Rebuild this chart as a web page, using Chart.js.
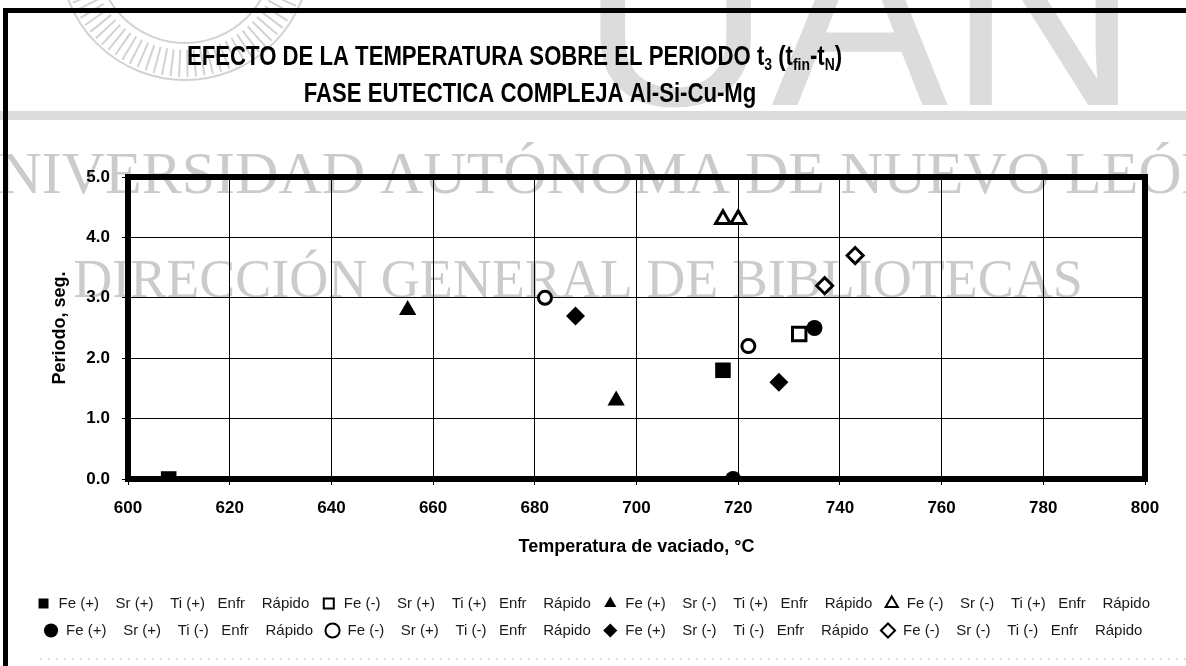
<!DOCTYPE html>
<html><head><meta charset="utf-8">
<script src="https://cdn.jsdelivr.net/npm/chart.js@4.4.0/dist/chart.umd.min.js"></script>
<style>html,body{margin:0;padding:0;background:#fff;}#wrap{width:1186px;height:666px;}</style>
</head><body><div id="wrap"><canvas id="c" width="1186" height="666"></canvas></div>
<script>
// ---- data ----
const seriesNames = [
  'Fe (+)    Sr (+)    Ti (+)   Enfr    Rápido',
  'Fe (-)    Sr (+)    Ti (+)   Enfr    Rápido',
  'Fe (+)    Sr (-)    Ti (+)   Enfr    Rápido',
  'Fe (-)    Sr (-)    Ti (+)   Enfr    Rápido',
  'Fe (+)    Sr (+)    Ti (-)   Enfr    Rápido',
  'Fe (-)    Sr (+)    Ti (-)   Enfr    Rápido',
  'Fe (+)    Sr (-)    Ti (-)   Enfr    Rápido',
  'Fe (-)    Sr (-)    Ti (-)   Enfr    Rápido'
];
const temp1 = [608, 717];  const period1 = [0.0, 1.8];
const temp2 = [732];       const period2 = [2.4];
const temp3 = [655, 696];  const period3 = [2.8, 1.3];
const temp4 = [717, 720];  const period4 = [4.3, 4.3];
const temp5 = [735, 719];  const period5 = [2.5, 0.0];
const temp6 = [682, 722];  const period6 = [3.0, 2.2];
const temp7 = [688, 728];  const period7 = [2.7, 1.6];
const temp8 = [743, 737];  const period8 = [3.7, 3.2];
const xTicks = [600, 620, 640, 660, 680, 700, 720, 740, 760, 780, 800];
const yTicks = [0, 1, 2, 3, 4, 5];
const titleLine2 = 'FASE EUTECTICA COMPLEJA Al-Si-Cu-Mg';
const xTitle = 'Temperatura de vaciado, °C';
const yTitle = 'Periodo, seg.';

const temps = [temp1, temp2, temp3, temp4, temp5, temp6, temp7, temp8];
const periods = [period1, period2, period3, period4, period5, period6, period7, period8];
const styles = ['rect','rect','triangle','triangle','circle','circle','rectRot','rectRot'];
const filled = [true,false,true,false,true,false,true,false];
const radii = {rect: 11, triangle: 10, circle: 8, rectRot: 9.5};

const datasets = seriesNames.map((name, i) => ({
  label: name,
  data: temps[i].map((t, j) => ({x: t, y: periods[i][j]})),
  pointStyle: styles[i],
  pointRadius: radii[styles[i]] - (filled[i] ? 0 : 1.5),
  pointHoverRadius: radii[styles[i]],
  backgroundColor: filled[i] ? '#000' : '#fff',
  borderColor: '#000',
  borderWidth: filled[i] ? 0 : 3,
  showLine: false
}));

const FONT = "'Liberation Sans', Arial, sans-serif";

const decor = {
  id: 'decor',
  beforeDraw(chart) {
    const ctx = chart.ctx;
    ctx.save();
    ctx.fillStyle = '#fff';
    ctx.fillRect(0, 0, chart.width, chart.height);
    // faint watermark of the scanned page
    ctx.strokeStyle = '#d2d2d2';
    ctx.lineWidth = 2;
    ctx.beginPath(); ctx.arc(185, -45, 125, 0, Math.PI); ctx.stroke();
    ctx.beginPath(); ctx.arc(185, -45, 88, 0, Math.PI); ctx.stroke();
    for (let a = 0.15; a < Math.PI - 0.1; a += 0.07) {
      ctx.beginPath();
      ctx.moveTo(185 + 95 * Math.cos(a), -45 + 95 * Math.sin(a));
      ctx.lineTo(185 + 122 * Math.cos(a), -45 + 122 * Math.sin(a));
      ctx.stroke();
    }
    ctx.font = "265px 'Liberation Sans', sans-serif";
    ctx.textBaseline = 'alphabetic';
    ctx.textAlign = 'left';
    ctx.fillStyle = '#dcdcdc';
    ctx.fillText('UAN', 580, 105);
    ctx.fillRect(0, 111, chart.width, 9);
    ctx.fillStyle = '#cbcbcb';
    ctx.font = "60px 'Liberation Serif', serif";
    ctx.textAlign = 'center';
    ctx.fillText('UNIVERSIDAD AUTÓNOMA DE NUEVO LEÓN', 590, 193);
    ctx.font = "54px 'Liberation Serif', serif";
    ctx.fillText('DIRECCIÓN GENERAL DE BIBLIOTECAS', 578, 297);
    // outer frame of the figure
    ctx.fillStyle = '#000';
    ctx.fillRect(3, 8, 5, chart.height - 8);
    ctx.fillRect(3, 8, chart.width, 5);
    // dotted bottom edge
    ctx.strokeStyle = '#bbb';
    ctx.lineWidth = 1;
    ctx.setLineDash([2, 6]);
    ctx.beginPath(); ctx.moveTo(40, 659); ctx.lineTo(1186, 659); ctx.stroke();
    ctx.setLineDash([]);
    // title with subscripts (condensed bold)
    const big = "bold 27px 'Liberation Sans', Arial, sans-serif";
    const small = "bold 17px 'Liberation Sans', Arial, sans-serif";
    const sx = 0.82;
    const parts = [
      ['EFECTO DE LA TEMPERATURA SOBRE EL PERIODO t', big, 0],
      ['3', small, 5],
      [' (t', big, 0],
      ['fin', small, 5],
      ['-t', big, 0],
      ['N', small, 5],
      [')', big, 0]
    ];
    ctx.fillStyle = '#000';
    ctx.textAlign = 'left';
    ctx.save();
    ctx.translate(187, 0);
    ctx.scale(sx, 1);
    let x = 0;
    parts.forEach(p => { ctx.font = p[1]; ctx.fillText(p[0], x, 65 + p[2]); x += ctx.measureText(p[0]).width; });
    ctx.restore();
    ctx.save();
    ctx.translate(530, 0);
    ctx.scale(sx, 1);
    ctx.font = big;
    ctx.textAlign = 'center';
    ctx.fillText(titleLine2, 0, 102);
    ctx.restore();
    ctx.restore();
  },
  beforeDatasetsDraw(chart) {
    const {ctx, chartArea: a} = chart;
    ctx.save();
    ctx.strokeStyle = '#000';
    ctx.lineWidth = 6;
    ctx.strokeRect(a.left, a.top, a.right - a.left, a.bottom - a.top);
    ctx.restore();
  }
};

new Chart(document.getElementById('c'), {
  type: 'scatter',
  data: { datasets },
  plugins: [decor],
  options: {
    responsive: false,
    animation: false,
    devicePixelRatio: 1,
    layout: { padding: { left: 5, right: 5, top: 177, bottom: 18 } },
    plugins: {
      title: { display: false },
      tooltip: { enabled: false },
      legend: {
        display: true,
        position: 'bottom',
        labels: {
          usePointStyle: true,
          boxHeight: 10,
          padding: 12,
          color: '#1a1a1a',
          font: { family: FONT, size: 15 },
          generateLabels(chart) {
            const items = Chart.defaults.plugins.legend.labels.generateLabels(chart);
            items.forEach(it => { it.lineWidth = it.lineWidth ? 2 : 0; });
            return items;
          }
        }
      }
    },
    scales: {
      x: {
        type: 'linear',
        min: xTicks[0], max: xTicks[xTicks.length - 1],
        afterBuildTicks(s) { s.ticks = xTicks.map(v => ({value: v})); },
        afterFit(s) { s.height = 105; },
        border: { display: false },
        grid: { color: '#000', lineWidth: 1, drawTicks: true, tickLength: 6, tickColor: '#000' },
        ticks: { color: '#000', padding: 13, font: { family: FONT, size: 17, weight: 'bold' }, callback: v => String(v) },
        title: { display: true, text: xTitle, color: '#000', font: { family: FONT, size: 18, weight: 'bold' }, padding: { top: 0, bottom: 26 } }
      },
      y: {
        type: 'linear',
        min: yTicks[0], max: yTicks[yTicks.length - 1],
        afterBuildTicks(s) { s.ticks = yTicks.map(v => ({value: v})); },
        afterFit(s) { s.width = 123; },
        border: { display: false },
        grid: { color: '#000', lineWidth: 1, drawTicks: true, tickLength: 6, tickColor: '#000' },
        ticks: { color: '#000', padding: 12, font: { family: FONT, size: 17, weight: 'bold' }, callback: v => Number(v).toFixed(1) },
        title: { display: true, text: yTitle, color: '#000', font: { family: FONT, size: 18, weight: 'bold' }, padding: { top: 44, bottom: 0 } }
      },
      yRight: {
        type: 'linear',
        position: 'right',
        min: 0, max: 5,
        afterFit(s) { s.width = 36; },
        border: { display: false },
        grid: { display: false },
        ticks: { display: false },
        title: { display: false }
      }
    }
  }
});
</script>
</body></html>
